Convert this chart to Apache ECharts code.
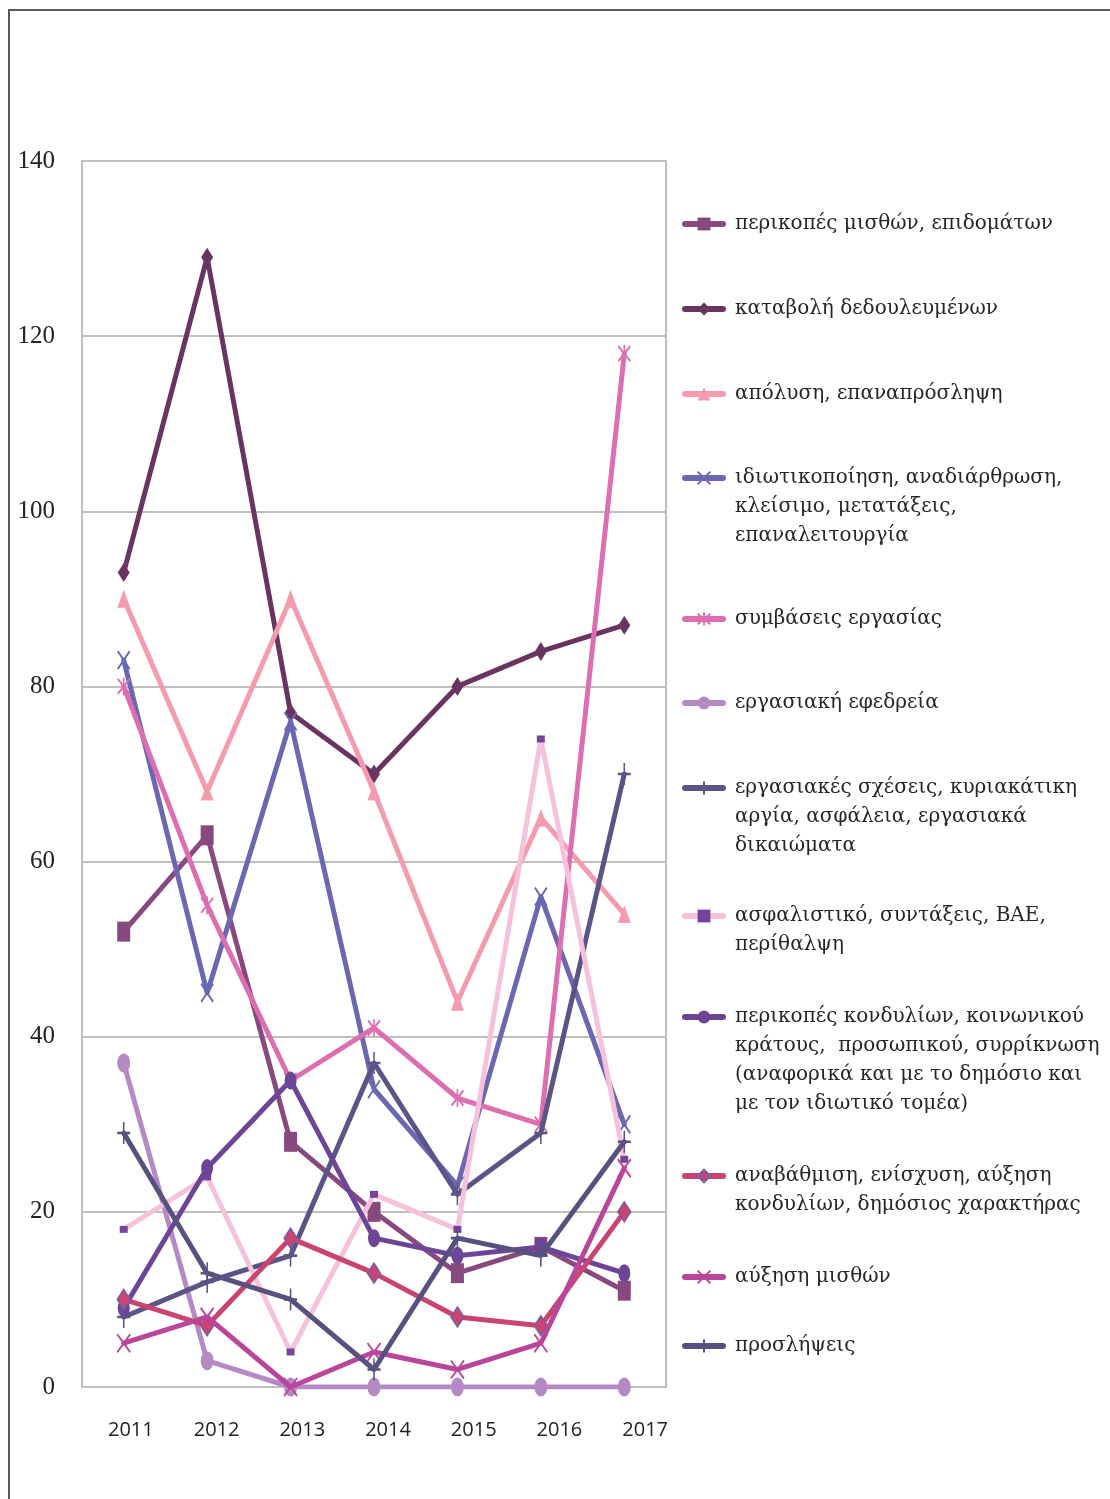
<!DOCTYPE html>
<html>
<head>
<meta charset="utf-8">
<script src="https://cdn.jsdelivr.net/npm/echarts@6/dist/echarts.min.js"></script>
<style>
html, body { margin: 0; padding: 0; background: #fff; }
#chart { width: 1110px; height: 1499px; }
</style>
</head>
<body>
<div id="chart"></div>
<script>
var years = ['2011', '2012', '2013', '2014', '2015', '2016', '2017'];

var perikopesMisthon = [52, 63, 28, 20, 13, 16, 11];
var katavoli = [93, 129, 77, 70, 80, 84, 87];
var apolysi = [90, 68, 90, 68, 44, 65, 54];
var idiotikopoiisi = [83, 45, 76, 34, 23, 56, 30];
var symvaseis = [80, 55, 35, 41, 33, 30, 118];
var efedreia = [37, 3, 0, 0, 0, 0, 0];
var ergasiakesSxeseis = [8, 12, 15, 37, 22, 29, 70];
var asfalistiko = [18, 24, 4, 22, 18, 74, 26];
var perikopesKondylion = [9, 25, 35, 17, 15, 16, 13];
var anavathmisi = [10, 7, 17, 13, 8, 7, 20];
var afxisiMisthon = [5, 8, 0, 4, 2, 5, 25];
var proslipseis = [29, 13, 10, 2, 17, 15, 28];

var yTicks = [0, 20, 40, 60, 80, 100, 120, 140];

var names = [
	'περικοπές μισθών, επιδομάτων',
	'καταβολή δεδουλευμένων',
	'απόλυση, επαναπρόσληψη',
	'ιδιωτικοποίηση, αναδιάρθρωση, κλείσιμο, μετατάξεις, επαναλειτουργία',
	'συμβάσεις εργασίας',
	'εργασιακή εφεδρεία',
	'εργασιακές σχέσεις, κυριακάτικη αργία, ασφάλεια, εργασιακά δικαιώματα',
	'ασφαλιστικό, συντάξεις, ΒΑΕ, περίθαλψη',
	'περικοπές κονδυλίων, κοινωνικού κράτους,  προσωπικού, συρρίκνωση (αναφορικά και με το δημόσιο και με τον ιδιωτικό τομέα)',
	'αναβάθμιση, ενίσχυση, αύξηση κονδυλίων, δημόσιος χαρακτήρας',
	'αύξηση μισθών',
	'προσλήψεις'
];

// legend text as it wraps in the picture
var legendLines = [
	['περικοπές μισθών, επιδομάτων'],
	['καταβολή δεδουλευμένων'],
	['απόλυση, επαναπρόσληψη'],
	['ιδιωτικοποίηση, αναδιάρθρωση,', 'κλείσιμο, μετατάξεις,', 'επαναλειτουργία'],
	['συμβάσεις εργασίας'],
	['εργασιακή εφεδρεία'],
	['εργασιακές σχέσεις, κυριακάτικη', 'αργία, ασφάλεια, εργασιακά', 'δικαιώματα'],
	['ασφαλιστικό, συντάξεις, ΒΑΕ,', 'περίθαλψη'],
	['περικοπές κονδυλίων, κοινωνικού', 'κράτους,  προσωπικού, συρρίκνωση', '(αναφορικά και με το δημόσιο και', 'με τον ιδιωτικό τομέα)'],
	['αναβάθμιση, ενίσχυση, αύξηση', 'κονδυλίων, δημόσιος χαρακτήρας'],
	['αύξηση μισθών'],
	['προσλήψεις']
];

var seriesData = [perikopesMisthon, katavoli, apolysi, idiotikopoiisi, symvaseis, efedreia,
	ergasiakesSxeseis, asfalistiko, perikopesKondylion, anavathmisi, afxisiMisthon, proslipseis];

var X_PATH = 'path://M0,0L10,10M10,0L0,10';
var STAR_PATH = 'path://M0,0L10,10M10,0L0,10M5,-1L5,11';
var PLUS_PATH = 'path://M5,0L5,10M0,5L10,5';

// line colour, marker, marker size, marker fill, border colour, border width
var styles = [
	{c: '#88497F', s: 'rect', z: [13, 20], f: '#88497F', b: '#88497F', w: 0},
	{c: '#6A3461', s: 'diamond', z: [12, 19], f: '#6A3461', b: '#6A3461', w: 0},
	{c: '#F59BAF', s: 'triangle', z: [13, 18], f: '#F59BAF', b: '#F59BAF', w: 0},
	{c: '#6B67B1', s: X_PATH, z: [12, 18], f: 'none', b: '#6B67B1', w: 2},
	{c: '#DC6FB0', s: STAR_PATH, z: [12, 18], f: 'none', b: '#DC6FB0', w: 2},
	{c: '#B58AC4', s: 'circle', z: [13, 19], f: '#B58AC4', b: '#B58AC4', w: 0},
	{c: '#5B5487', s: PLUS_PATH, z: [13, 22], f: 'none', b: '#5B5487', w: 2},
	{c: '#F6C2DB', s: 'rect', z: [8, 7], f: '#75459A', b: '#75459A', w: 0},
	{c: '#6D4596', s: 'circle', z: [12, 18], f: '#6D4596', b: '#6D4596', w: 0},
	{c: '#CB436F', s: 'diamond', z: [13, 20], f: '#CB436F', b: '#6E62A8', w: 1.5},
	{c: '#B8469A', s: X_PATH, z: [13, 18], f: 'none', b: '#B8469A', w: 2},
	{c: '#57517F', s: PLUS_PATH, z: [13, 22], f: 'none', b: '#57517F', w: 2}
];

// vertical position of each legend icon
var legendIconY = [224, 309, 394, 478, 619, 703, 788, 916, 1017, 1176, 1277, 1346];

var LEGEND_LH = 29;

var chart = echarts.init(document.getElementById('chart'));

var series = [];
var legends = [];
for (var i = 0; i < names.length; i++) {
	var st = styles[i];
	series.push({
		name: names[i],
		type: 'line',
		xAxisIndex: 0,
		yAxisIndex: 0,
		data: seriesData[i],
		symbol: st.s,
		symbolSize: st.z,
		showAllSymbol: true,
		lineStyle: {color: st.c, width: 5, cap: 'round', join: 'round'},
		itemStyle: {color: st.f, borderColor: st.b, borderWidth: st.w},
		emphasis: {disabled: true},
		z: 2 + i
	});

	// the legend centres text on the icon, so blank lines in front keep the icon on the first line
	var n = legendLines[i].length;
	var blockH = (2 * n - 1) * LEGEND_LH;
	var pre = '';
	for (var k = 1; k < n; k++) { pre += '\n'; }
	legends.push({
		show: true,
		orient: 'vertical',
		left: 682,
		top: legendIconY[i] - blockH / 2,
		padding: 0,
		itemWidth: 38,
		itemHeight: 16,
		selectedMode: false,
		data: [names[i]],
		lineStyle: {width: 6, cap: 'round'},
		formatter: (function (text) {
			return function () { return text; };
		})(pre + legendLines[i].join('\n')),
		textStyle: {
			fontFamily: 'DejaVu Serif',
			fontSize: 20,
			color: '#262626',
			lineHeight: LEGEND_LH,
			padding: [0, 0, 0, 7]
		}
	});
}

var option = {
	animation: false,
	backgroundColor: '#ffffff',
	graphic: [{
		type: 'rect',
		shape: {x: 9, y: 10, width: 1300, height: 1700},
		style: {fill: 'none', stroke: '#5a5a5a', lineWidth: 2},
		silent: true
	}],
	legend: legends,
	grid: [
		{left: 82, right: 444, top: 161, bottom: 112, show: true, borderColor: '#BFBFBF', borderWidth: 2},
		// second frame only carries the year labels, which sit a little wider than the plot
		{left: 88, right: 422, top: 161, bottom: 112}
	],
	xAxis: [{
		type: 'category',
		gridIndex: 0,
		data: years,
		boundaryGap: true,
		axisLine: {show: true, lineStyle: {color: '#BFBFBF', width: 2}},
		axisTick: {show: false},
		axisLabel: {show: false},
		splitLine: {show: false}
	}, {
		type: 'category',
		gridIndex: 1,
		data: years,
		boundaryGap: true,
		axisLine: {show: false},
		axisTick: {show: false},
		axisLabel: {
			show: true,
			margin: 33,
			fontFamily: 'Open Sans',
			fontSize: 20,
			color: '#222222'
		},
		splitLine: {show: false}
	}],
	yAxis: [{
		type: 'value',
		gridIndex: 0,
		min: yTicks[0],
		max: yTicks[yTicks.length - 1],
		interval: yTicks[1] - yTicks[0],
		axisLine: {show: true, lineStyle: {color: '#BFBFBF', width: 2}},
		axisTick: {show: false},
		axisLabel: {
			margin: 27,
			fontFamily: 'Liberation Serif',
			fontSize: 25,
			color: '#222222'
		},
		splitLine: {show: true, lineStyle: {color: '#BFBFBF', width: 2}}
	}, {
		type: 'value',
		gridIndex: 1,
		min: 0,
		max: 140,
		show: false
	}],
	series: series
};

chart.setOption(option);
</script>
</body>
</html>
